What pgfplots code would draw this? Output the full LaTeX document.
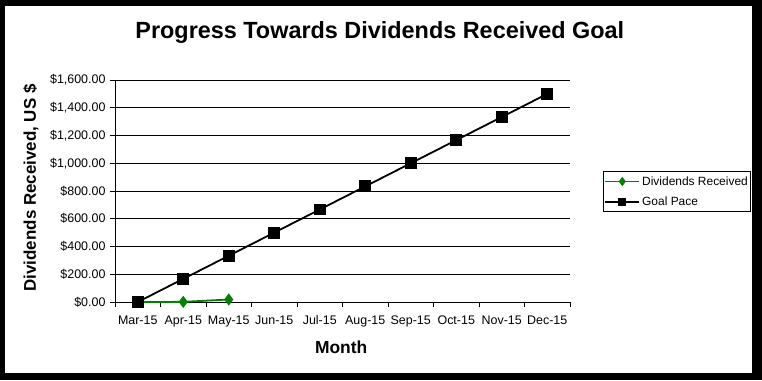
\documentclass[border=0pt]{standalone}
\usepackage{pgfplots}
\pgfplotsset{compat=1.18}
\usepackage{fontspec}
\setmainfont{Liberation Sans}
\definecolor{dgreen}{RGB}{0,128,0}
\begin{document}
\begin{tikzpicture}[x=1bp,y=1bp]
\fill[black] (0,0) rectangle (762,380);
\fill[white] (5,7) rectangle (752,374);
\begin{axis}[
  at={(115bp,78bp)}, anchor=south west,
  scale only axis, width=455bp, height=222bp,
  xmin=-0.5, xmax=9.5, ymin=0, ymax=1600,
  axis x line*=bottom, axis y line*=left,
  axis line style={black, line width=0.8bp},
  ytick={0,200,...,1600},
  ymajorgrids, grid style={black, line width=0.8bp},
  xtick={0,...,9},
  xticklabels={Mar-15,Apr-15,May-15,Jun-15,Jul-15,Aug-15,Sep-15,Oct-15,Nov-15,Dec-15},
  major x tick style={draw=none},
  minor xtick={-0.5,0.5,...,9.5},
  minor tick length=5bp, major tick length=5bp,
  tick align=outside,
  tick style={black, line width=0.8bp},
  tick label style={font=\fontsize{12.5}{14}\selectfont},
  xticklabel style={text height=9bp, text depth=2bp, yshift=-5bp},
  yticklabel style={xshift=-1bp},
  yticklabel={\$\pgfmathprintnumber{\tick}},
  /pgf/number format/.cd, fixed, fixed zerofill, precision=2, 1000 sep={,}, assume math mode=true,
  /pgfplots/.cd,
  title={Progress Towards Dividends Received Goal},
  every axis title/.style={at={(axis description cs:0.582,1.216)}, anchor=center, font=\fontsize{23.5}{28}\selectfont\bfseries},
  xlabel={Month},
  every axis x label/.style={at={(axis description cs:0.497,-0.203)}, anchor=center, font=\fontsize{17.5}{20}\selectfont\bfseries},
  ylabel={Dividends Received, US \$},
  every axis y label/.style={at={(axis description cs:-0.185,0.514)}, rotate=90, anchor=center, font=\fontsize{17}{20}\selectfont\bfseries},
  legend style={at={(axis description cs:1.0725,0.59)}, anchor=north west, draw=black, line width=0.8bp,
    font=\fontsize{12}{14}\selectfont, inner xsep=1bp, inner ysep=3bp, row sep=6bp},
  legend cell align=left,
  legend image code/.code={\draw[mark repeat=2,mark phase=2,#1,line width=1.8bp,mark size=3.2bp] plot coordinates {(0bp,0bp) (17bp,0bp) (34bp,0bp)};},
]
\addplot[dgreen, line width=1.8bp, mark=diamond*, mark size=4.6bp, mark options={fill=dgreen, solid}]
  coordinates {(0,0) (1,1) (2,18)};
\addlegendentry{Dividends Received}
\addplot[black, line width=1.8bp, mark=square*, mark size=5bp, mark options={fill=black, solid}]
  coordinates {(0,0) (1,166.67) (2,333.33) (3,500) (4,666.67) (5,833.33) (6,1000) (7,1166.67) (8,1333.33) (9,1500)};
\addlegendentry{Goal Pace}
\end{axis}
\end{tikzpicture}
\end{document}
